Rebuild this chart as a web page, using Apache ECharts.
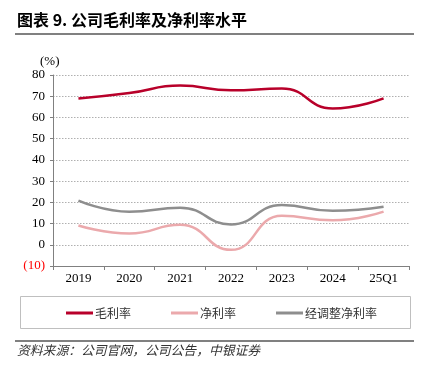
<!DOCTYPE html>
<html><head><meta charset="utf-8">
<script src="https://cdn.jsdelivr.net/npm/echarts@6/dist/echarts.min.js"></script>
<style>html,body{margin:0;padding:0;background:#fff}#c{width:427px;height:374px}</style>
</head><body><div id="c"></div>
<script>
const categories = ['2019','2020','2021','2022','2023','2024','25Q1'];
const grossMargin = [68.9, 71.5, 75.0, 72.8, 73.6, 64.2, 69.0];
const netMargin = [9.1, 5.3, 9.4, -2.4, 13.7, 11.5, 15.6];
const adjNetMargin = [20.8, 15.6, 17.5, 9.6, 18.7, 16.0, 17.9];
const seriesNames = ['毛利率', '净利率', '经调整净利率'];
const yMin = -10, yMax = 80, yStep = 10;

const chart = echarts.init(document.getElementById('c'), null, {renderer: 'canvas'});
const serif = '"Liberation Serif","DejaVu Serif",serif';
const cjk = '"Noto Sans CJK SC","Noto Sans",sans-serif';
const colors = ['#B8002A', '#EBA9AC', '#8E8E8E'];
function mk(name, data, color) {
  return {name, type: 'line', data, smooth: 0.5, symbol: 'none', xAxisIndex: 0,
    lineStyle: {color, width: 2.5}, itemStyle: {color}};
}
chart.setOption({
  animation: false,
  grid: {left: 53, right: 18, top: 75, bottom: 108, containLabel: false},
  graphic: [
    {type: 'text', left: 17, top: 12, style: {text: '图表 9. 公司毛利率及净利率水平', font: 'bold 16px ' + cjk, fill: '#000'}},
    {type: 'rect', shape: {x: 15, y: 33, width: 399, height: 2}, style: {fill: '#808080'}},
    {type: 'rect', shape: {x: 20.5, y: 296.5, width: 390, height: 32}, style: {fill: 'none', stroke: '#BFBFBF', lineWidth: 1}},
    {type: 'rect', shape: {x: 15, y: 340, width: 399, height: 2}, style: {fill: '#808080'}},
    {type: 'text', left: 17, top: 344, style: {text: '资料来源：公司官网，公司公告，中银证券', font: 'italic 12.8px ' + cjk, fill: '#333'}},
    {type: 'text', left: 40, top: 55, style: {text: '(%)', font: '13px ' + serif, fill: '#000'}}
  ],
  legend: {
    data: seriesNames, top: 302, left: 61, itemGap: 40, itemWidth: 27, itemHeight: 3,
    icon: 'rect', textStyle: {fontFamily: cjk, fontSize: 12, color: '#333', padding: [0,0,0,-3]}
  },
  xAxis: [
    {type: 'category', data: categories, boundaryGap: true,
      axisLine: {show: false}, axisTick: {show: false},
      axisLabel: {fontFamily: serif, fontSize: 13, color: '#000', margin: 6}},
    {type: 'category', data: categories, boundaryGap: true, position: 'bottom',
      axisLine: {show: true, onZero: true, lineStyle: {color: '#808080', width: 1}},
      axisTick: {show: true, inside: false, length: 4, lineStyle: {color: '#808080'}},
      axisLabel: {show: false}}
  ],
  yAxis: {
    type: 'value', min: yMin, max: yMax, interval: yStep,
    axisLine: {show: true, lineStyle: {color: '#808080'}},
    axisTick: {show: true, length: 3, lineStyle: {color: '#808080'}},
    splitLine: {show: true, lineStyle: {color: '#B0B0B0', type: [1.5, 1.5], width: 1}},
    axisLabel: {fontFamily: serif, fontSize: 13, color: '#000', margin: 8,
      formatter: v => v < 0 ? '{neg|(' + Math.abs(v) + ')}' : String(v),
      rich: {neg: {color: '#FF0000', fontFamily: serif, fontSize: 13}}}
  },
  series: [
    mk(seriesNames[0], grossMargin, colors[0]),
    mk(seriesNames[1], netMargin, colors[1]),
    mk(seriesNames[2], adjNetMargin, colors[2])
  ]
});
</script></body></html>
